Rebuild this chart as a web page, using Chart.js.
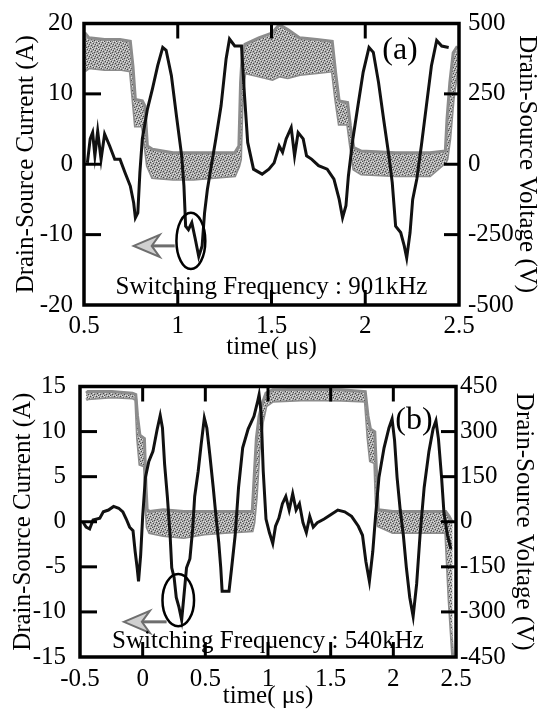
<!DOCTYPE html>
<html>
<head>
<meta charset="utf-8">
<script src="https://cdn.jsdelivr.net/npm/chart.js@4"></script>
<style>
    body { margin: 0; background: #fff; }
    canvas { position: absolute; left: 0; }
    #chartA { top: 0; }
    #chartB { top: 360px; }
</style>
</head>
<body>
<canvas id="chartA" width="539" height="360"></canvas>
<canvas id="chartB" width="539" height="351"></canvas>
<script>
// panel (a) : 901 kHz
const timeA = [0.518, 0.533, 0.546, 0.558, 0.573, 0.591, 0.610, 0.637, 0.664, 0.692, 0.719, 0.747, 0.765, 0.774, 0.787, 0.798, 0.811, 0.838, 0.865, 0.893, 0.920, 0.938, 0.966, 0.993, 1.021, 1.033, 1.042, 1.057, 1.075, 1.094, 1.112, 1.130, 1.143, 1.158, 1.179, 1.203, 1.231, 1.258, 1.276, 1.304, 1.340, 1.355, 1.373, 1.404, 1.450, 1.486, 1.514, 1.541, 1.559, 1.578, 1.605, 1.623, 1.642, 1.669, 1.687, 1.715, 1.751, 1.797, 1.833, 1.861, 1.879, 1.897, 1.910, 1.934, 1.961, 1.989, 2.020, 2.043, 2.071, 2.098, 2.126, 2.144, 2.162, 2.189, 2.208, 2.221, 2.239, 2.253, 2.275, 2.299, 2.326, 2.353, 2.381, 2.408, 2.445]
const currentA = [0.2, 3.6, 4.5, 1.2, 4.7, 0.7, 4.3, 2.6, 0.7, 0.7, -1.2, -3.1, -5.5, -7.6, -6.9, -1.2, 3.6, 7.8, 10.7, 14.0, 16.6, 16.2, 12.6, 6.9, 1.2, -3.1, -8.8, -9.3, -8.3, -10.7, -13.1, -11.6, -6.9, -3.6, -0.2, 3.6, 8.3, 15.0, 17.8, 16.8, 16.8, 10.2, 3.1, -0.7, -1.4, -0.7, 0.2, 2.6, 1.7, 3.6, 5.2, 1.2, 4.5, 3.6, 1.2, 0.7, -0.2, -0.7, -2.1, -5.0, -7.6, -5.9, -1.7, 3.6, 8.3, 13.1, 16.6, 15.9, 11.6, 6.4, 1.2, -2.6, -8.8, -9.7, -11.6, -13.3, -9.7, -5.0, -2.1, 2.6, 8.3, 14.0, 17.6, 16.8, 16.6]
const vTimeA = [0.504, 0.527, 0.610, 0.692, 0.747, 0.761, 0.774, 0.811, 0.825, 0.838, 0.865, 0.975, 1.084, 1.194, 1.304, 1.326, 1.335, 1.344, 1.358, 1.432, 1.505, 1.541, 1.587, 1.651, 1.742, 1.824, 1.842, 1.861, 1.906, 1.921, 1.939, 1.979, 2.162, 2.345, 2.427, 2.436, 2.451, 2.469, 2.491]
const vHighA = [467, 449, 443, 443, 437, 349, 230, 225, 207, 65, 53, 41, 41, 41, 41, 65, 290, 396, 426, 449, 467, 496, 479, 449, 443, 437, 325, 225, 219, 136, 59, 47, 41, 41, 47, 160, 290, 396, 419]
const vLowA = [331, 343, 337, 337, 331, 230, 136, 136, 65, -6, -47, -53, -53, -47, -41, -6, 18, 230, 325, 313, 301, 313, 307, 319, 325, 331, 230, 142, 142, 65, -18, -35, -41, -41, 6, 18, 89, 230, 337]
const timeTicksA = [0.5, 1, 1.5, 2, 2.5]
const currentTicksA = [-20, -10, 0, 10, 20]
const voltTicksA = [-500, -250, 0, 250, 500]

// panel (b) : 540 kHz
const timeB = [-0.478, -0.451, -0.423, -0.396, -0.342, -0.314, -0.273, -0.232, -0.191, -0.158, -0.131, -0.104, -0.077, -0.060, -0.044, -0.033, -0.016, 0.000, 0.022, 0.049, 0.082, 0.115, 0.140, 0.158, 0.175, 0.197, 0.219, 0.232, 0.251, 0.268, 0.290, 0.311, 0.328, 0.350, 0.377, 0.399, 0.415, 0.443, 0.466, 0.492, 0.512, 0.536, 0.563, 0.585, 0.607, 0.623, 0.634, 0.689, 0.710, 0.738, 0.765, 0.798, 0.842, 0.888, 0.915, 0.929, 0.945, 0.962, 0.984, 1.011, 1.038, 1.060, 1.087, 1.115, 1.142, 1.169, 1.197, 1.224, 1.251, 1.279, 1.306, 1.333, 1.361, 1.393, 1.448, 1.503, 1.557, 1.612, 1.667, 1.721, 1.754, 1.781, 1.809, 1.836, 1.858, 1.885, 1.926, 1.965, 1.990, 2.010, 2.030, 2.055, 2.080, 2.104, 2.131, 2.158, 2.186, 2.213, 2.246, 2.284, 2.317, 2.340, 2.360, 2.385, 2.404, 2.432, 2.459]
const currentB = [0, -0.6, -0.8, 0.2, 0.4, 1.1, 1.3, 1.7, 1.5, 1.1, 0.3, -0.6, -1.0, -3.3, -5.1, -6.6, -3.7, 0.6, 4.9, 6.7, 7.8, 10.2, 11.8, 10.4, 6.4, 2.8, -1.5, -5.1, -6.2, -8.4, -9.5, -10.9, -8.4, -5.1, -4.1, -0.8, 2.8, 5.6, 8.5, 11.5, 10.4, 7.4, 3.8, 0.6, -2.3, -5.1, -7.7, -7.7, -5.1, -1.5, 3.8, 8.2, 10.3, 11.7, 13.2, 14.1, 12.1, 5.6, 0.3, -1.2, -2.4, -0.5, 0.4, 2.0, 2.8, 1.3, 3.1, 1.3, 2.0, -0.1, -1.2, 0.6, -0.6, -0.1, 0.3, 0.8, 1.3, 1.1, 0.6, -0.5, -1.5, -4.4, -6.6, -3.3, 0.6, 4.9, 8.2, 10.4, 11.4, 9.0, 4.9, 1.3, -1.5, -5.1, -8.4, -10.5, -6.9, -1.5, 3.8, 7.8, 10.3, 11.2, 9.2, 4.9, 1.0, -1.5, -3.0]
const vTimeB = [-0.451, -0.437, -0.246, -0.082, -0.055, -0.041, -0.022, 0.014, 0.027, 0.036, 0.055, 0.164, 0.328, 0.492, 0.656, 0.874, 0.888, 0.907, 0.929, 0.956, 0.984, 1.038, 1.311, 1.585, 1.776, 1.798, 1.817, 1.852, 1.863, 1.880, 1.995, 2.268, 2.418, 2.445, 2.473]
const vHighB = [428, 433, 433, 428, 423, 352, 288, 277, 115, 40, 34, 40, 34, 34, 34, 34, 137, 277, 352, 396, 428, 439, 441, 439, 433, 352, 309, 299, 191, 40, 34, 34, 34, 18, -3]
const vLowB = [406, 409, 415, 412, 406, 277, 191, 185, 40, -19, -36, -46, -52, -41, -36, -30, -3, 83, 234, 331, 385, 401, 406, 404, 401, 277, 202, 196, 61, -14, -36, -36, -36, -262, -445]
const timeTicksB = [-0.5, 0, 0.5, 1, 1.5, 2, 2.5]
const currentTicksB = [-15, -10, -5, 0, 5, 10, 15]
const voltTicksB = [-450, -300, -150, 0, 150, 300, 450]

const serif = '"Liberation Serif", "DejaVu Serif", serif'

function main() {
    Chart.defaults.font.family = serif
    Chart.defaults.color = '#000'
    const band = bandPattern()

    buildChart('chartA', {
        time: timeA, current: currentA, vTime: vTimeA, vHigh: vHighA, vLow: vLowA,
        timeTicks: timeTicksA, currentTicks: currentTicksA, voltTicks: voltTicksA,
        band: band, padTop: 23, leftW: 84, rightW: 80, bottomH: 55,
        leftTitlePad: 14, rightTitlePad: 0, xTitlePad: 0, leftPad: 11, rightPad: 9, xPad: 9,
        label: '(a)', labelPos: [-59, 27],
        freq: 'Switching Frequency : 901kHz', freqBase: 11,
        ring: { t: 1.070, i: -10.9, rt: 0.077, ri: 4.0 },
        arrow: { from: 0.984, to: 0.765, i: -11.6 },
        topMarks: [1, 1.5, 2]
    })

    buildChart('chartB', {
        time: timeB, current: currentB, vTime: vTimeB, vHigh: vHighB, vLow: vLowB,
        timeTicks: timeTicksB, currentTicks: currentTicksB, voltTicks: voltTicksB,
        band: band, padTop: 15, leftW: 80, rightW: 83, bottomH: 54,
        leftTitlePad: 11, rightTitlePad: 3, xTitlePad: 2, leftPad: 14, rightPad: 4, xPad: 10,
        label: '(b)', labelPos: [-42, 34],
        freq: 'Switching Frequency : 540kHz', freqBase: 9,
        ring: { t: 0.284, i: -8.7, rt: 0.126, ri: 2.9 },
        arrow: { from: 0.191, to: -0.150, i: -11.1 },
        topMarks: [0, 0.5, 1, 1.5, 2]
    })
}

// grey speckle used for the voltage trace
function bandPattern() {
    const c = document.createElement('canvas')
    c.width = 6
    c.height = 6
    const g = c.getContext('2d')
    g.fillStyle = '#a8a8a8'
    g.fillRect(0, 0, 6, 6)
    g.fillStyle = '#4a4a4a'
    for (const [x, y] of [[0, 0], [3, 1], [5, 2], [1, 3], [4, 4], [2, 5]]) g.fillRect(x, y, 1, 1)
    g.fillStyle = '#e4e4e4'
    for (const [x, y] of [[2, 0], [0, 2], [4, 1], [3, 3], [5, 5], [1, 5]]) g.fillRect(x, y, 1, 1)
    return g.createPattern(c, 'repeat')
}

function points(xs, ys) {
    return xs.map((x, i) => ({ x: x, y: ys[i] }))
}

function fixedTicks(values) {
    return (scale) => { scale.ticks = values.map(v => ({ value: v })) }
}

function buildChart(canvasId, c) {
    const ctx = document.getElementById(canvasId)
    const font = { size: 25, lineHeight: 1 }

    new Chart(ctx, {
        type: 'line',
        data: {
            datasets: [
                {
                    label: 'current',
                    data: points(c.time, c.current),
                    yAxisID: 'y',
                    borderColor: '#111',
                    borderWidth: 3,
                    pointRadius: 0,
                    fill: false,
                    order: 0
                },
                {
                    label: 'voltage high',
                    data: points(c.vTime, c.vHigh),
                    yAxisID: 'y1',
                    borderColor: '#8c8c8c',
                    borderWidth: 3,
                    backgroundColor: c.band,
                    pointRadius: 0,
                    fill: '+1',
                    order: 1
                },
                {
                    label: 'voltage low',
                    data: points(c.vTime, c.vLow),
                    yAxisID: 'y1',
                    borderColor: '#8c8c8c',
                    borderWidth: 3,
                    pointRadius: 0,
                    fill: false,
                    order: 2
                }
            ]
        },
        options: {
            responsive: false,
            animation: false,
            devicePixelRatio: 1,
            layout: { padding: { top: c.padTop, left: 0, right: 0, bottom: 0 } },
            plugins: {
                legend: { display: false },
                tooltip: { enabled: false },
                frame: c
            },
            scales: {
                x: {
                    type: 'linear',
                    min: c.timeTicks[0],
                    max: c.timeTicks[c.timeTicks.length - 1],
                    afterBuildTicks: fixedTicks(c.timeTicks),
                    afterFit: (s) => { s.height = c.bottomH },
                    grid: { display: false, drawTicks: false },
                    border: { display: false },
                    ticks: { font: font, padding: c.xPad, maxRotation: 0, callback: v => String(v) },
                    title: { display: true, text: 'time( μs)', font: font, padding: { top: 0, bottom: c.xTitlePad } }
                },
                y: {
                    position: 'left',
                    min: c.currentTicks[0],
                    max: c.currentTicks[c.currentTicks.length - 1],
                    afterBuildTicks: fixedTicks(c.currentTicks),
                    afterFit: (s) => { s.width = c.leftW },
                    grid: { display: false, drawTicks: false },
                    border: { display: false },
                    ticks: { font: font, padding: c.leftPad, callback: v => String(v) },
                    title: { display: true, text: 'Drain-Source Current (A)', font: font, padding: { top: c.leftTitlePad, bottom: 0 } }
                },
                y1: {
                    position: 'right',
                    min: c.voltTicks[0],
                    max: c.voltTicks[c.voltTicks.length - 1],
                    afterBuildTicks: fixedTicks(c.voltTicks),
                    afterFit: (s) => { s.width = c.rightW },
                    grid: { display: false, drawTicks: false },
                    border: { display: false },
                    ticks: { font: font, padding: c.rightPad, callback: v => String(v) },
                    title: { display: true, text: 'Drain-Source Voltage (V)', font: font, padding: { top: c.rightTitlePad, bottom: 0 } }
                }
            }
        },
        plugins: [framePlugin]
    })
}

// box, inward tick marks, the circled spike, the arrow and the captions
const framePlugin = {
    id: 'frame',
    afterDatasetsDraw(chart, args, c) {
        const { ctx, chartArea: a, scales } = chart
        const sx = scales.x, sy = scales.y, sv = scales.y1
        ctx.save()
        ctx.strokeStyle = '#000'
        ctx.lineWidth = 3

        const line = (x1, y1, x2, y2) => {
            ctx.beginPath()
            ctx.moveTo(x1, y1)
            ctx.lineTo(x2, y2)
            ctx.stroke()
        }
        for (const v of c.topMarks) {
            const x = sx.getPixelForValue(v)
            line(x, a.top, x, a.top + 15)
            line(x, a.bottom, x, a.bottom - 15)
        }
        for (const v of c.currentTicks.slice(1, -1)) {
            const y = sy.getPixelForValue(v)
            line(a.left, y, a.left + 17, y)
        }
        for (const v of c.voltTicks.slice(1, -1)) {
            const y = sv.getPixelForValue(v)
            line(a.right, y, a.right - 15, y)
        }
        ctx.lineWidth = 3.5
        ctx.strokeRect(a.left, a.top, a.right - a.left, a.bottom - a.top)

        // circled spike
        const cx = sx.getPixelForValue(c.ring.t)
        const cy = sy.getPixelForValue(c.ring.i)
        const rx = Math.abs(sx.getPixelForValue(c.ring.t + c.ring.rt) - cx)
        const ry = Math.abs(sy.getPixelForValue(c.ring.i + c.ring.ri) - cy)
        ctx.lineWidth = 2.5
        ctx.beginPath()
        ctx.ellipse(cx, cy, rx, ry, 0, 0, Math.PI * 2)
        ctx.stroke()

        // arrow to the current axis
        const x1 = sx.getPixelForValue(c.arrow.from)
        const x2 = sx.getPixelForValue(c.arrow.to)
        const ay = sy.getPixelForValue(c.arrow.i)
        ctx.strokeStyle = '#6e6e6e'
        ctx.lineWidth = 3
        line(x1, ay, x2 + 14, ay)
        ctx.fillStyle = '#d0d0d0'
        ctx.lineWidth = 2
        ctx.beginPath()
        ctx.moveTo(x2, ay)
        ctx.lineTo(x2 + 26, ay - 11)
        ctx.lineTo(x2 + 18, ay)
        ctx.lineTo(x2 + 26, ay + 11)
        ctx.closePath()
        ctx.fill()
        ctx.stroke()

        // captions
        ctx.fillStyle = '#000'
        ctx.textAlign = 'center'
        ctx.textBaseline = 'alphabetic'
        ctx.font = '25px ' + serif
        ctx.fillText(c.freq, (a.left + a.right) / 2, a.bottom - c.freqBase)
        ctx.textBaseline = 'middle'
        ctx.font = '32px ' + serif
        ctx.fillText(c.label, a.right + c.labelPos[0], a.top + c.labelPos[1])
        ctx.restore()
    }
}

document.addEventListener('DOMContentLoaded', main)
</script>
</body>
</html>
